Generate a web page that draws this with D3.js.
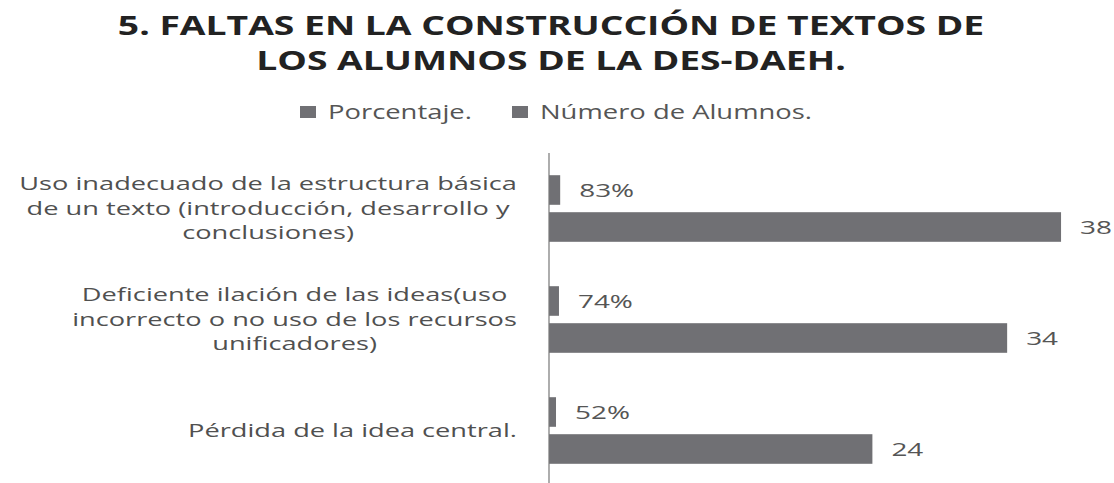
<!DOCTYPE html>
<html>
<head>
<meta charset="utf-8">
<script src="https://cdn.jsdelivr.net/npm/d3@7"></script>
<style>
  body { margin: 0; background: #fff; }
  svg { display: block; font-family: "Open Sans", sans-serif; }
</style>
</head>
<body>
<script>
// datos de la gráfica
var categorias = [
    "Uso inadecuado de la estructura básica\nde un texto (introducción, desarrollo y\nconclusiones)",
    "Deficiente ilación de las ideas(uso\nincorrecto o no uso de los recursos\nunificadores)",
    "Pérdida de la idea central."
];
var series = ["Porcentaje.", "Número de Alumnos."];
var porcentaje = [0.83, 0.74, 0.52];
var porcentajeEtiquetas = ["83%", "74%", "52%"];
var numeroAlumnos = [38, 34, 24];
var titulo = ["5. FALTAS EN LA CONSTRUCCIÓN DE TEXTOS DE", "LOS ALUMNOS DE LA DES-DAEH."];

var width = 1114,
    height = 483;

var barColor = "#707074";

var svg = d3.select("body")
    .append("svg")
    .attr("width", width)
    .attr("height", height);

// la imagen original está estirada a lo ancho
function place(sel, x, y, sx) {
    sel.attr("transform", "translate(" + x + "," + y + ") scale(" + sx + ",1)");
}

var x = d3.scaleLinear()
    .domain([0, 40])
    .range([549, 1088]);

var y = d3.scaleBand()
    .domain(categorias)
    .range([153, 486])
    .paddingInner(0.4)
    .paddingOuter(0.2);

var ySub = d3.scaleBand()
    .domain(series)
    .range([0, y.bandwidth()])
    .paddingInner(0.2);

// filas de datos
var filas = categorias.map(function (c, i) {
    return {
        cat: c,
        valores: [
            {serie: series[0], value: porcentaje[i], label: porcentajeEtiquetas[i]},
            {serie: series[1], value: numeroAlumnos[i], label: String(numeroAlumnos[i])}
        ]
    };
});

/* ------- título -------*/
svg.append("text")
    .attr("class", "title")
    .attr("text-anchor", "middle")
    .attr("font-weight", "bold")
    .attr("font-size", 27)
    .attr("fill", "#222")
    .call(place, 551, 35, 1.38)
    .selectAll("tspan")
    .data(titulo)
    .enter()
    .append("tspan")
    .attr("x", 0)
    .attr("y", function (d, i) { return i * 35; })
    .text(function (d) { return d; });

/* ------- leyenda -------*/
var legendX = [300, 512];
var legend = svg.append("g").attr("class", "legend")
    .selectAll("g")
    .data(series)
    .enter()
    .append("g")
    .attr("transform", function (d, i) { return "translate(" + legendX[i] + ",106)"; });

legend.append("rect")
    .attr("width", 16)
    .attr("height", 12)
    .attr("fill", barColor);

legend.append("text")
    .attr("font-size", 20)
    .attr("fill", "#555")
    .text(function (d) { return d; })
    .each(function () {
        place(d3.select(this), 28, 13, 1.37);
    });

/* ------- barras -------*/
var groups = svg.append("g").attr("class", "bars")
    .selectAll("g")
    .data(filas)
    .enter()
    .append("g")
    .attr("transform", function (d) { return "translate(0," + y(d.cat) + ")"; });

groups.selectAll("rect")
    .data(function (d) { return d.valores; })
    .enter()
    .append("rect")
    .attr("x", x(0))
    .attr("y", function (d) { return ySub(d.serie); })
    .attr("width", function (d) { return x(d.value) - x(0); })
    .attr("height", ySub.bandwidth())
    .attr("fill", barColor);

groups.selectAll("text")
    .data(function (d) { return d.valores; })
    .enter()
    .append("text")
    .attr("font-size", 18)
    .attr("fill", "#555")
    .text(function (d) { return d.label; })
    .each(function (d) {
        place(d3.select(this), x(d.value) + 19, ySub(d.serie) + ySub.bandwidth() / 2 + 6.5, 1.55);
    });

/* ------- eje -------*/
svg.append("line")
    .attr("x1", x(0))
    .attr("x2", x(0))
    .attr("y1", y.range()[0])
    .attr("y2", y.range()[1])
    .attr("stroke", "#777")
    .attr("stroke-width", 1.2);

/* ------- etiquetas de categoría -------*/
var labelRight = x(0) - 32,
    labelSx = 1.47,
    lineH = 25;

svg.append("g").attr("class", "cats")
    .selectAll("text")
    .data(categorias)
    .enter()
    .append("text")
    .attr("font-size", 18.5)
    .attr("fill", "#505050")
    .attr("text-anchor", "middle")
    .each(function (c) {
        var t = d3.select(this);
        var lines = c.split("\n");
        var cy = y(c) + y.bandwidth() / 2;
        var spans = t.selectAll("tspan")
            .data(lines)
            .enter()
            .append("tspan")
            .attr("x", 0)
            .attr("y", function (d, i) { return (i - (lines.length - 1) / 2) * lineH + 6; })
            .text(function (d) { return d; });
        var w = 0;
        spans.each(function () { w = Math.max(w, this.getComputedTextLength()); });
        place(t, labelRight - w * labelSx / 2, cy, labelSx);
    });
</script>
</body>
</html>
